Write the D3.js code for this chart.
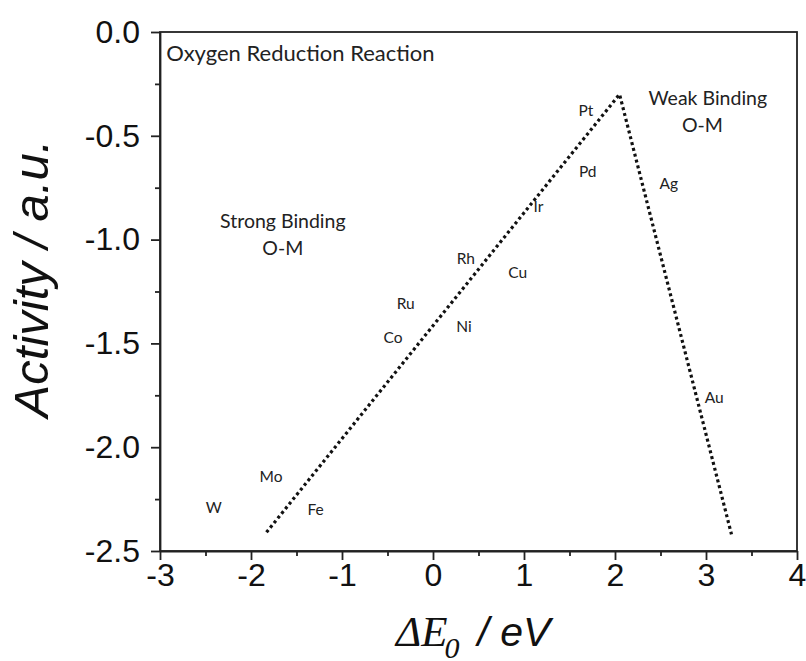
<!DOCTYPE html>
<html>
<head>
<meta charset="utf-8">
<script src="https://cdn.jsdelivr.net/npm/d3@7"></script>
<style>
  body { margin: 0; background: #fff; overflow: hidden; }
  svg { display: block; }
  .tick text { font-family: "Liberation Sans", Arial, sans-serif; }
  .note { font-family: Lato, "Noto Sans", sans-serif; fill: #222; }
</style>
</head>
<body>
<div id="chart"></div>
<script>
// --- Layout ---
const width = 806;
const height = 661;
const margin = { top: 32, right: 9, bottom: 110, left: 160 };
const innerWidth = width - margin.left - margin.right;
const innerHeight = height - margin.top - margin.bottom;

// --- Data ---
// volcano line: dE (eV) vs activity
const lineX = [-1.83, 2.05, 3.28];
const lineY = [-2.41, -0.30, -2.42];

// metal labels placed at (dE, activity)
const metals = ["Pt", "Pd", "Ag", "Ir", "Rh", "Cu", "Ru", "Ni", "Co", "Au", "Mo", "W", "Fe"];
const metalX = [1.68, 1.70, 2.59, 1.16, 0.36, 0.93, -0.30, 0.34, -0.44, 3.09, -1.78, -2.41, -1.29];
const metalY = [-0.38, -0.67, -0.73, -0.84, -1.09, -1.16, -1.31, -1.42, -1.47, -1.76, -2.14, -2.29, -2.30];

// region notes
const noteText = ["Oxygen Reduction Reaction", "Strong Binding", "O-M", "Weak Binding", "O-M"];
const noteX = [-2.93, -1.65, -1.65, 3.02, 2.96];
const noteY = [-0.105, -0.91, -1.04, -0.318, -0.45];
const noteAnchor = ["start", "middle", "middle", "middle", "middle"];

// axis ticks
const xTicks = [-3, -2, -1, 0, 1, 2, 3, 4];
const xMinor = [-2.5, -1.5, -0.5, 0.5, 1.5, 2.5, 3.5];
const yTicks = [0, -0.5, -1.0, -1.5, -2.0, -2.5];
const yMinor = [-0.25, -0.75, -1.25, -1.75, -2.25];

// --- SVG setup ---
const svg = d3.select("#chart")
  .append("svg")
  .attr("width", width)
  .attr("height", height);

const g = svg.append("g")
  .attr("transform", `translate(${margin.left},${margin.top})`);

const x = d3.scaleLinear().domain([-3, 4]).range([0, innerWidth]);
const y = d3.scaleLinear().domain([-2.5, 0]).range([innerHeight, 0]);

const fmt = (d) => d3.format(".1f")(d).replace("\u2212", "-");

// minor ticks (no labels)
g.append("g")
  .attr("transform", `translate(0,${innerHeight})`)
  .call(d3.axisBottom(x).tickValues(xMinor).tickSize(5).tickFormat(""))
  .call((s) => s.select(".domain").remove())
  .call((s) => s.selectAll("text").remove());
g.append("g")
  .call(d3.axisLeft(y).tickValues(yMinor).tickSize(5).tickFormat(""))
  .call((s) => s.select(".domain").remove())
  .call((s) => s.selectAll("text").remove());

// major axes
const xAxis = g.append("g")
  .attr("transform", `translate(0,${innerHeight})`)
  .call(d3.axisBottom(x).tickValues(xTicks).tickSize(9).tickSizeOuter(0)
    .tickFormat((d) => String(d).replace("\u2212", "-")));
xAxis.selectAll("text").attr("font-size", 32).attr("fill", "#111");

const yAxis = g.append("g")
  .call(d3.axisLeft(y).tickValues(yTicks).tickSize(9).tickSizeOuter(0).tickFormat(fmt));
yAxis.selectAll("text").attr("font-size", 32).attr("dx", -8).attr("fill", "#111");

g.selectAll(".domain, .tick line").attr("stroke", "#222").attr("stroke-width", 1.8);

// frame
g.append("rect")
  .attr("width", innerWidth)
  .attr("height", innerHeight)
  .attr("fill", "none")
  .attr("stroke", "#222")
  .attr("stroke-width", 1.8);

// dotted volcano line
const pts = lineX.map((d, i) => [d, lineY[i]]);
g.append("path")
  .datum(pts)
  .attr("d", d3.line().x((d) => x(d[0])).y((d) => y(d[1])))
  .attr("fill", "none")
  .attr("stroke", "#111")
  .attr("stroke-width", 3.2)
  .attr("stroke-dasharray", "3,3");

// metal labels
g.selectAll("text.metal")
  .data(metals)
  .join("text")
  .attr("class", "note metal")
  .attr("x", (d, i) => x(metalX[i]))
  .attr("y", (d, i) => y(metalY[i]))
  .attr("dy", "0.35em")
  .attr("text-anchor", "middle")
  .attr("font-size", 15.5)
  .text((d) => d);

// region notes
g.selectAll("text.region")
  .data(noteText)
  .join("text")
  .attr("class", "note region")
  .attr("x", (d, i) => x(noteX[i]))
  .attr("y", (d, i) => y(noteY[i]))
  .attr("dy", "0.35em")
  .attr("text-anchor", (d, i) => noteAnchor[i])
  .attr("font-size", (d, i) => (i === 0 ? 22 : 19.5))
  .text((d) => d);

// axis titles
svg.append("text")
  .attr("transform", `translate(48, ${margin.top + innerHeight * 0.475}) rotate(-90)`)
  .attr("text-anchor", "middle")
  .attr("font-family", "Liberation Sans, Arial, sans-serif")
  .attr("font-style", "italic")
  .attr("font-size", 49)
  .attr("fill", "#111")
  .text("Activity / a.u.");

const serif = "Liberation Serif, Times New Roman, serif";
const xt = svg.append("text")
  .attr("x", 396)
  .attr("y", 646)
  .attr("font-style", "italic")
  .attr("fill", "#111");
xt.append("tspan").attr("font-family", serif).attr("font-size", 43).text("\u0394E");
xt.append("tspan").attr("font-family", serif).attr("font-size", 30).attr("dx", -3).attr("dy", 12).text("0");
xt.append("tspan").attr("font-family", "Liberation Sans, Arial, sans-serif").attr("font-size", 41)
  .attr("dy", -12).attr("dx", 18).text("/ eV");
</script>
</body>
</html>
